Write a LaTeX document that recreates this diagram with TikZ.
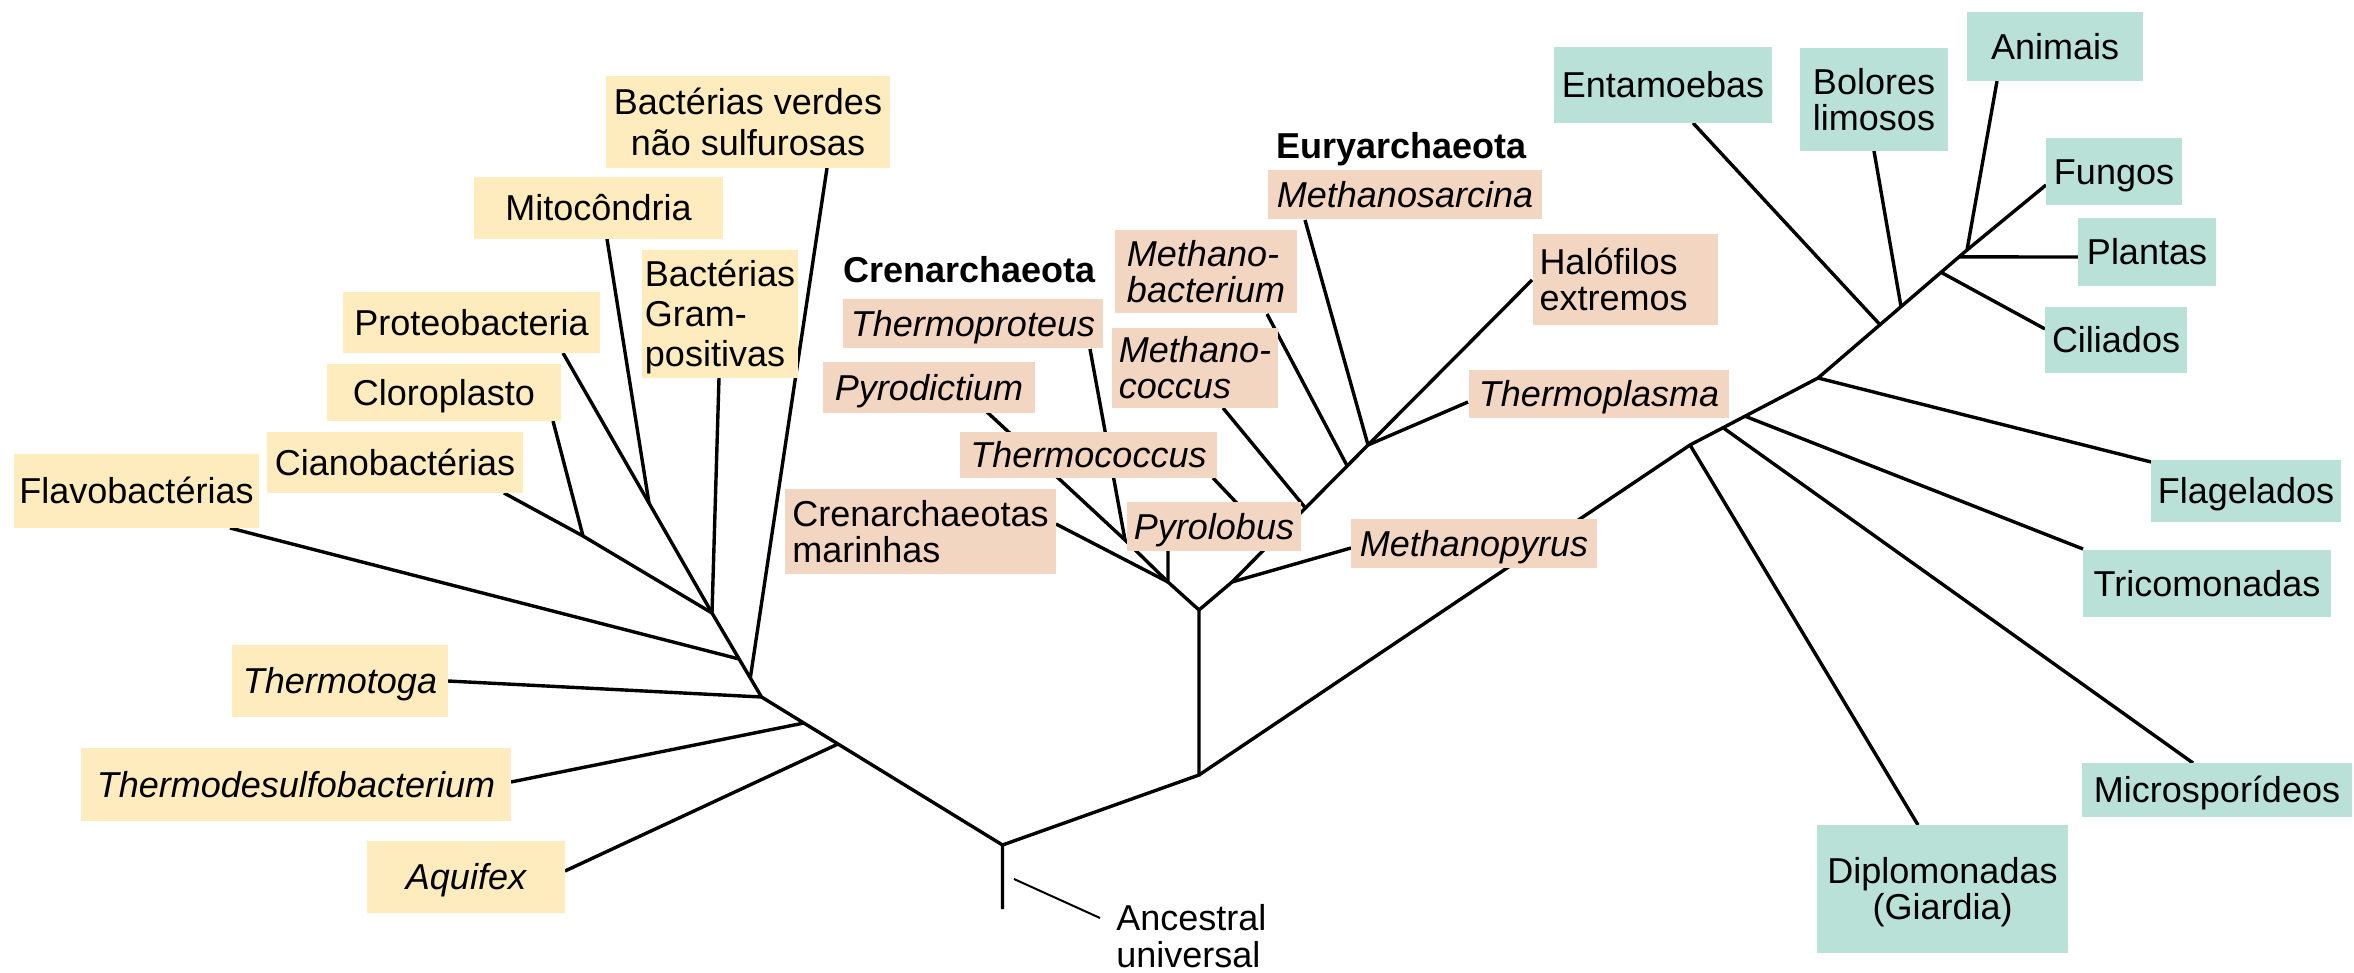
\documentclass[tikz,border=0pt]{standalone}
\usepackage{fontspec}
\setmainfont{Liberation Sans}
\definecolor{bac}{RGB}{254,236,190}
\definecolor{arc}{RGB}{242,214,194}
\definecolor{euk}{RGB}{185,225,215}
\newcommand{\fs}{\fontsize{18}{18}\selectfont}
\newcommand{\mlL}[2]{\vbox{\baselineskip=#1\lineskiplimit=-100pt\lineskip=0pt\halign{##\hfil\cr#2\cr}}}
\newcommand{\mlC}[2]{\vbox{\baselineskip=#1\lineskiplimit=-100pt\lineskip=0pt\halign{\hfil##\hfil\cr#2\cr}}}
\tikzset{
  lbl/.style={inner sep=0pt,outer sep=0pt,font=\fs,text height=12.9pt,text depth=0pt},
  ybox/.style={lbl,fill=bac},
  abox/.style={lbl,fill=arc},
  ebox/.style={lbl,fill=euk},
  ital/.style={font=\fs\itshape},
  br/.style={line width=1.7pt},
  ptr/.style={line width=1pt},
  two/.style={text height=30.9pt},
}
\begin{document}
\begin{tikzpicture}[x=0.5pt,y=-0.5pt]
\useasboundingbox (0,0) rectangle (2354,973);
% ---- bacteria junctions
\coordinate (R) at (1002.5,845);
\coordinate (Rb) at (1002.5,909);
\coordinate (B1) at (838,744);
\coordinate (B2) at (804,723);
\coordinate (B3) at (761.5,697);
\coordinate (Jv) at (750.3,678);
\coordinate (Jf) at (739.1,659);
\coordinate (A) at (712,613);
\coordinate (Jm) at (649,503);
\coordinate (C) at (583,536);
\coordinate (eVer) at (827,168);
\coordinate (eMit) at (607,239);
\coordinate (ePro) at (563,353);
\coordinate (eGra) at (719,378);
\coordinate (eClo) at (553,421);
\coordinate (eCia) at (504,493);
\coordinate (eFla) at (230,528);
\coordinate (eTga) at (448,681);
\coordinate (eTds) at (511,782);
\coordinate (eAqu) at (565,871);
% ---- archaea
\coordinate (S) at (1199,775);
\coordinate (C0) at (1199,610);
\coordinate (CJ) at (1168,582);
\coordinate (EJ) at (1232,582);
\coordinate (P) at (1125,540);
\coordinate (EN) at (1368,445);
\coordinate (Jmb) at (1347.2,466);
\coordinate (Jmc) at (1305.5,508);
\coordinate (Jtc) at (1272.7,541);
\coordinate (ePyl) at (1168,551);
\coordinate (eMar) at (1056,524);
\coordinate (ePdi) at (987,412);
\coordinate (eTpr) at (1090,349);
\coordinate (eMsa) at (1305,220);
\coordinate (eHal) at (1532,280);
\coordinate (eTpl) at (1468,402);
\coordinate (eMpy) at (1351,548);
\coordinate (eMba) at (1267,314);
\coordinate (eMco) at (1223,408);
\coordinate (eTco) at (1213,478);
% ---- eukarya
\coordinate (D) at (1690,445);
\coordinate (Mi) at (1723,427.7);
\coordinate (T) at (1745,416.2);
\coordinate (F) at (1818,378);
\coordinate (En) at (1880,324.7);
\coordinate (Bo) at (1901,306.7);
\coordinate (Ci) at (1941,272.3);
\coordinate (Pl) at (1959,256.9);
\coordinate (Top) at (1967,250);
\coordinate (eEnt) at (1693,123);
\coordinate (eBol) at (1874,151);
\coordinate (eAni) at (1997,81);
\coordinate (eFun) at (2046,185);
\coordinate (ePla) at (2078,257);
\coordinate (eCil) at (2045,329);
\coordinate (eFlg) at (2151,462);
\coordinate (eTri) at (2083,549);
\coordinate (eMic) at (2193,763);
\coordinate (eDip) at (1918,825);
\coordinate (pA) at (1014,879);
\coordinate (pB) at (1100,918);
% ---- branches
\draw[br] (Rb) -- (R) -- (B3) -- (A) -- (ePro);
\draw[br] (A) -- (C) -- (eCia);
\draw[br] (C) -- (eClo);
\draw[br] (A) -- (eGra);
\draw[br] (Jm) -- (eMit);
\draw[br] (Jv) -- (eVer);
\draw[br] (Jf) -- (eFla);
\draw[br] (B3) -- (eTga);
\draw[br] (B2) -- (eTds);
\draw[br] (B1) -- (eAqu);
\draw[br] (R) -- (S) -- (C0) -- (CJ) -- (ePyl);
\draw[br] (C0) -- (EJ) -- (EN) -- (eMsa);
\draw[br] (EN) -- (eHal);
\draw[br] (EN) -- (eTpl);
\draw[br] (EJ) -- (eMpy);
\draw[br] (CJ) -- (eMar);
\draw[br] (CJ) -- (P) -- (ePdi);
\draw[br] (P) -- (eTpr);
\draw[br] (Jmb) -- (eMba);
\draw[br] (Jmc) -- (eMco);
\draw[br] (Jtc) -- (eTco);
\draw[br] (S) -- (D) -- (F) -- (Top) -- (eAni);
\draw[br] (Top) -- (eFun);
\draw[br] (Pl) -- (ePla);
\draw[br] (Ci) -- (eCil);
\draw[br] (Bo) -- (eBol);
\draw[br] (En) -- (eEnt);
\draw[br] (F) -- (eFlg);
\draw[br] (T) -- (eTri);
\draw[br] (Mi) -- (eMic);
\draw[br] (D) -- (eDip);
\draw[ptr] (pA) -- (pB);
% ---- bacteria boxes
\node[ybox,minimum width=142pt,minimum height=46pt,text height=33.4pt] (verdes) at (748,122) {\mlC{20.5pt}{Bactérias verdes\cr não sulfurosas}};
\node[ybox,minimum width=124.5pt,minimum height=31pt] (mito) at (598.5,208) {Mitocôndria};
\node[ybox,minimum width=128.5pt,minimum height=30.5pt] (proteo) at (471.5,322.5) {Proteobacteria};
\node[ybox,minimum width=78pt,minimum height=64pt,text height=52.9pt] (gram) at (720,314) {\mlL{20pt}{Bactérias\cr Gram-\cr positivas}};
\node[ybox,minimum width=117pt,minimum height=28.5pt] (cloro) at (444,392.5) {Cloroplasto};
\node[ybox,minimum width=128pt,minimum height=30.5pt] (ciano) at (395,462.5) {Cianobactérias};
\node[ybox,minimum width=122.5pt,minimum height=37pt] (flavo) at (136.5,491) {Flavobactérias};
\node[ybox,ital,minimum width=108pt,minimum height=36pt] (thermotoga) at (340,681) {Thermotoga};
\node[ybox,ital,minimum width=215pt,minimum height=36.5pt] (thermodesulfo) at (296,784.5) {Thermodesulfobacterium};
\node[ybox,ital,minimum width=99pt,minimum height=36pt] (aquifex) at (466,877) {Aquifex};
% ---- archaea boxes
\node[font=\fs\bfseries,inner sep=0pt,anchor=base west] (cren) at (843,283) {Crenarchaeota};
\node[font=\fs\bfseries,inner sep=0pt,anchor=base west] (eury) at (1276,159) {Euryarchaeota};
\node[abox,ital,minimum width=137pt,minimum height=24.5pt] (msarcina) at (1405,194.5) {Methanosarcina};
\node[abox,ital,minimum width=130pt,minimum height=24.5pt] (tproteus) at (973,323.5) {Thermoproteus};
\node[abox,ital,two,minimum width=91pt,minimum height=41.5pt] (mbact) at (1206,271.5) {\mlL{18pt}{Methano-\cr bacterium}};
\node[abox,two,minimum width=92.5pt,minimum height=45.5pt] (halo) at (1625.5,279.5) {\hspace*{-6pt}\mlL{18pt}{Halófilos\cr extremos}\hspace*{6pt}};
\node[abox,ital,minimum width=106pt,minimum height=25.5pt] (pdict) at (929,387.5) {Pyrodictium};
\node[abox,ital,two,minimum width=83pt,minimum height=40pt] (mcocc) at (1195,368) {\mlL{18pt}{Methano-\cr coccus}};
\node[abox,ital,minimum width=130pt,minimum height=24pt] (tplasma) at (1599,394) {Thermoplasma};
\node[abox,ital,minimum width=128.5pt,minimum height=23pt] (tcocc) at (1088.5,455) {Thermococcus};
\node[abox,two,minimum width=135.5pt,minimum height=42.5pt] (marinhas) at (920.5,531.5) {\mlL{18pt}{Crenarchaeotas\cr marinhas}};
\node[abox,ital,minimum width=87pt,minimum height=24.5pt] (pyrolobus) at (1214,526.5) {Pyrolobus};
\node[abox,ital,minimum width=123pt,minimum height=24.5pt] (mpyrus) at (1474,543.5) {Methanopyrus};
% ---- eukarya boxes
\node[ebox,minimum width=109pt,minimum height=38pt] (entam) at (1663,85) {Entamoebas};
\node[ebox,two,minimum width=74pt,minimum height=51.5pt] (bolores) at (1874,99.5) {\mlL{18pt}{Bolores\cr limosos}};
\node[ebox,minimum width=88pt,minimum height=34.5pt] (animais) at (2055,46.5) {Animais};
\node[ebox,minimum width=68pt,minimum height=33.5pt] (fungos) at (2114,171.5) {Fungos};
\node[ebox,minimum width=69pt,minimum height=34pt] (plantas) at (2147,252) {Plantas};
\node[ebox,minimum width=71pt,minimum height=33pt] (ciliados) at (2116,340) {Ciliados};
\node[ebox,minimum width=95pt,minimum height=31pt] (flag) at (2246,491) {Flagelados};
\node[ebox,minimum width=124pt,minimum height=33.5pt] (trico) at (2207,583.5) {Tricomonadas};
\node[ebox,minimum width=135pt,minimum height=27pt] (micro) at (2217,790) {Microsporídeos};
\node[ebox,two,minimum width=125.5pt,minimum height=64pt] (diplo) at (1942.5,889) {\mlC{18pt}{Diplomonadas\cr (Giardia)}};
% ---- ancestor label
\node[font=\fs,inner sep=0pt,anchor=base west] (anc) at (1116,967) {\mlL{18.3pt}{Ancestral\cr universal}};
\end{tikzpicture}
\end{document}
